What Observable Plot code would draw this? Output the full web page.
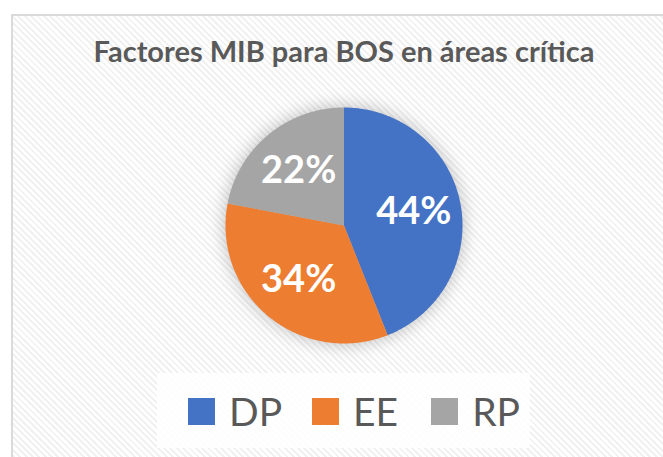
<!DOCTYPE html>
<html>
<head>
<meta charset="utf-8">
<script src="https://cdn.jsdelivr.net/npm/d3@7"></script>
<script src="https://cdn.jsdelivr.net/npm/@observablehq/plot@0.6"></script>
<style>
  html, body { margin: 0; padding: 0; background: #fff; }
  #wrap { position: relative; width: 663px; height: 457px; overflow: hidden; background: #fff; }
  #box { position: absolute; left: 11px; top: 14px; width: 700px; height: 500px;
         border: 2px solid #dadada; box-sizing: border-box;
         background: repeating-linear-gradient(45deg, #ffffff 0px, #ffffff 2.5px, #f1f1f1 2.5px, #f1f1f1 4.5px); }
  #title { position: absolute; left: 0; width: 688px; top: 33px; text-align: center;
           font-family: Lato, sans-serif; font-weight: bold; font-size: 29px; color: #595959; letter-spacing: 0px; white-space: nowrap; }
  #plot { position: absolute; left: 0; top: 0; }
  #plot svg { background: transparent; }
  #plot g[aria-label="line"] { filter: drop-shadow(0 0 9px rgba(0,0,0,0.26)); }
  #legbg { position: absolute; left: 157px; top: 373px; width: 373px; height: 75px; background: rgba(255,255,255,0.85); }
  #legend { position: absolute; left: 188px; top: 388px; display: flex; align-items: center;
            font-family: Lato, sans-serif; font-size: 39px; color: #595959; }
  .item { display: flex; align-items: center; }
  .sw { width: 27px; height: 27px; margin-right: 14px; }
</style>
</head>
<body>
<div id="wrap">
  <div id="box"></div>
  <div id="title"></div>
  <div id="legbg"></div>
  <div id="plot"></div>
  <div id="legend"></div>
</div>
<script>
const title = "Factores MIB para BOS en áreas crítica";
const categories = ["DP", "EE", "RP"];
const values = [44, 34, 22];
const labels = ["44%", "34%", "22%"];
const colors = ["#4472C4", "#ED7D31", "#A5A5A5"];

document.getElementById("title").textContent = title;

const total = d3.sum(values);
const pts = [];
const labelPts = [];
let start = 0;
categories.forEach((c, i) => {
  const a0 = start / total * 2 * Math.PI;
  const a1 = (start + values[i]) / total * 2 * Math.PI;
  pts.push({key: c, x: 0, y: 0});
  const n = Math.max(2, Math.ceil((a1 - a0) / 0.01));
  for (let k = 0; k <= n; k++) {
    const a = a0 + (a1 - a0) * k / n;
    pts.push({key: c, x: Math.sin(a), y: Math.cos(a)});
  }
  pts.push({key: c, x: 0, y: 0});
  const am = (a0 + a1) / 2;
  labelPts.push({key: c, label: labels[i], x: 0.6 * Math.sin(am), y: 0.6 * Math.cos(am)});
  start += values[i];
});

const chart = Plot.plot({
  width: 663,
  height: 457,
  marginLeft: 225,
  marginRight: 201,
  marginTop: 107,
  marginBottom: 114,
  x: {domain: [-1, 1], axis: null},
  y: {domain: [-1, 1], axis: null},
  color: {domain: categories, range: colors},
  style: {background: "transparent", overflow: "visible"},
  marks: [
    Plot.line(pts, {x: "x", y: "y", z: "key", fill: "key", stroke: "none", curve: "linear"}),
    Plot.text(labelPts, {x: "x", y: "y", text: "label", fill: "white",
      fontSize: 38, fontWeight: "bold", fontFamily: "Lato, sans-serif"})
  ]
});
document.getElementById("plot").appendChild(chart);

const leg = document.getElementById("legend");
const gaps = [0, 30, 33];
categories.forEach((c, i) => {
  const it = document.createElement("div");
  it.className = "item";
  it.style.marginLeft = gaps[i] + "px";
  const sw = document.createElement("div");
  sw.className = "sw";
  sw.style.background = colors[i];
  const t = document.createElement("span");
  t.textContent = c;
  it.appendChild(sw);
  it.appendChild(t);
  leg.appendChild(it);
});
</script>
</body>
</html>
